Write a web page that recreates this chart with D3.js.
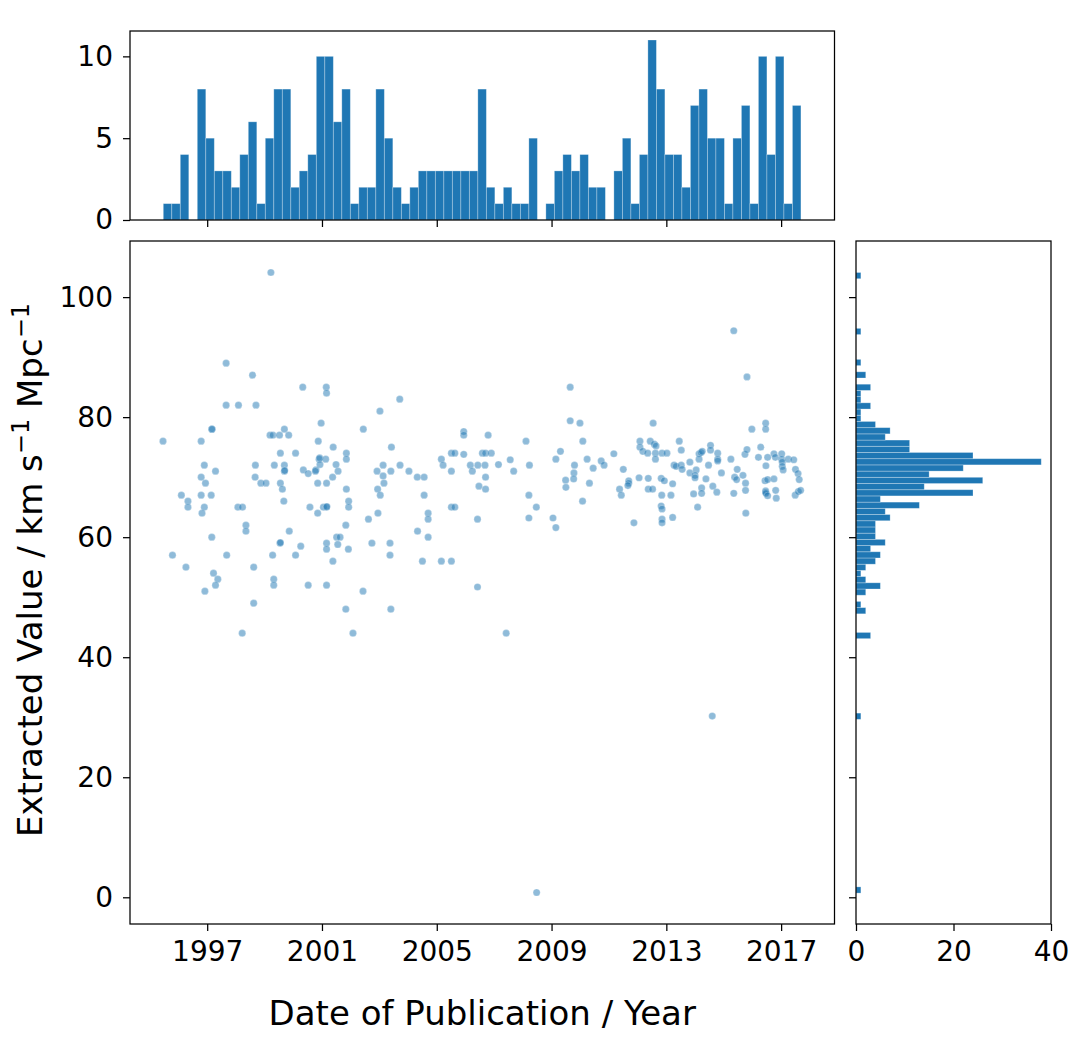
<!DOCTYPE html>
<html><head><meta charset="utf-8">
<script src="https://cdn.jsdelivr.net/npm/d3@7"></script>
<style>
body{margin:0;background:#fff}
svg{display:block}
text{font-family:"DejaVu Sans",sans-serif;fill:#000}
</style>
</head><body>
<svg id="chart" width="1084" height="1050"></svg>
<script>
// ---------------- DATA ----------------
// scatter points: [publication year, extracted H0 value]
const scatterPoints = [
[1999.22,104.1],[1997.66,89.0],[1998.58,87.0],[2000.33,85.0],[2001.15,85.0],[2001.16,84.0],[2003.71,83.0],
[1997.66,82.0],[1998.09,82.0],[1998.70,82.0],[2003.02,81.0],[2000.97,79.0],[1997.16,78.0],[1997.17,78.0],
[1999.69,78.0],[2002.44,78.0],[1995.46,76.0],[1996.79,76.0],[2000.87,76.0],[1999.19,77.0],[1999.29,77.0],
[1999.52,77.0],[1999.84,77.0],[2005.94,77.6],[2005.94,77.0],[2006.79,77.0],[2001.39,75.0],[2003.42,75.0],
[1999.55,74.0],[2000.08,74.0],[2001.85,74.0],[2001.85,73.0],[2000.90,73.0],[2000.92,73.2],[2001.13,73.0],
[2005.16,73.0],[2005.51,74.0],[2005.63,74.0],[2005.94,73.8],[2006.59,74.0],[2006.70,74.0],[2006.90,74.0],
[1996.90,72.0],[1998.68,72.0],[1999.34,72.0],[1999.69,72.0],[2000.93,72.1],[2001.49,72.1],[2003.13,72.0],
[2003.72,72.0],[2005.22,72.0],[2006.17,72.0],[2006.43,72.0],[2006.68,72.0],[1997.29,71.0],[1999.69,71.0],
[1999.70,71.1],[2000.35,71.2],[2000.79,71.2],[2000.77,71.0],[2001.56,71.0],[2002.92,71.0],[2003.40,71.0],
[2004.03,71.0],[2005.51,71.0],[2006.24,71.0],[1996.79,70.0],[1998.67,70.0],[2000.52,70.6],[2001.37,70.0],
[2003.13,70.2],[2004.32,70.0],[2004.56,70.0],[2006.70,70.0],
[1996.94,69.0],[1998.87,69.0],[1999.05,69.0],[1999.55,69.0],[1999.62,68.0],[2000.85,69.0],[2001.16,69.0],
[2001.85,68.0],[2002.94,68.0],[2003.03,67.0],[2003.16,69.0],[2004.56,67.0],[2006.47,68.5],[2006.70,68.0],
[1996.10,67.0],[1996.33,66.0],[1996.33,65.0],[1996.79,67.0],[1997.14,67.0],[1996.90,65.0],[1996.82,64.0],
[1998.07,65.0],[1998.23,65.0],[1999.67,66.0],[2000.58,65.0],[2000.85,64.0],[2001.05,65.0],[2001.16,65.0],
[2001.17,65.1],[2001.93,66.0],[2001.93,65.0],[2002.62,63.0],[2002.95,64.0],[2004.70,64.0],[2004.70,63.0],
[2005.51,65.0],[2005.63,65.0],[2006.42,63.0],[1998.35,62.0],[1998.35,61.0],[1999.86,61.0],[2001.83,62.0],
[2004.33,61.0],[2004.70,60.0],[1997.16,60.0],[1999.54,59.0],[1999.55,59.1],[2000.26,58.5],[2001.16,59.0],
[2001.16,58.0],[2001.51,60.0],[2001.63,60.0],[2001.55,58.8],[2001.92,58.0],[2002.74,59.0],[2003.37,59.0],
[2003.37,57.0],[1995.79,57.0],[1997.68,57.0],[1999.28,57.0],[2000.08,57.0],[2001.38,56.0],[2004.50,56.0],
[2005.16,56.0],[2005.51,56.0],[1996.26,55.0],[1998.62,55.0],[1997.22,54.0],[1997.37,53.0],[1997.29,52.0],
[1996.92,51.0],[1999.32,53.0],[1999.32,52.0],[2000.52,52.0],[2001.16,52.0],[2002.43,51.0],[2006.42,51.7],
[1998.62,49.0],[2001.83,48.0],[2003.40,48.0],[1998.22,44.0],[2002.08,44.0],
[2007.15,72.1],[2007.56,72.9],[2007.68,71.0],[2008.11,76.0],[2008.23,72.0],[2008.21,67.0],[2008.47,65.0],
[2008.21,63.2],[2009.05,63.2],[2009.15,61.6],[2009.15,73.0],[2009.31,74.3],[2009.65,85.0],[2009.65,79.4],
[2009.99,79.0],[2010.09,76.0],[2009.80,72.0],[2009.78,70.7],[2009.77,69.7],[2009.49,69.5],[2009.50,68.3],
[2010.24,73.0],[2010.45,71.5],[2010.32,69.0],[2010.08,66.0],[2010.73,72.7],[2010.83,72.0],[2011.17,73.9],
[2011.50,71.3],[2011.37,68.0],[2011.43,67.0],[2011.69,69.4],[2011.69,69.0],[2011.66,68.6],[2011.87,62.4],
[2012.05,69.9],[2012.08,76.0],[2012.08,75.0],[2012.18,74.3],[2012.35,74.0],[2012.44,76.0],[2012.54,79.0],
[2012.58,75.5],[2012.64,75.2],[2012.62,74.0],[2012.62,73.0],[2012.85,74.0],[2013.02,74.0],[2012.37,69.8],
[2012.37,68.0],[2012.52,68.0],[2012.82,69.8],[2012.93,69.4],[2012.84,67.0],[2013.22,68.9],[2013.16,67.0],
[2013.27,72.0],[2013.34,71.8],[2013.52,72.0],[2013.55,71.3],[2013.45,76.0],[2013.52,74.5],[2013.82,72.5],
[2013.82,70.7],[2014.04,71.2],[2014.00,70.3],[2014.00,69.9],[2014.14,73.9],[2014.21,74.1],[2014.25,74.3],
[2014.14,73.0],[2014.38,69.7],[2014.47,72.0],[2014.54,75.3],[2014.54,74.5],[2014.23,68.2],[2014.23,67.3],
[2013.95,67.2],[2014.62,68.5],[2014.76,67.5],[2014.79,74.0],[2014.79,73.0],[2014.79,72.7],[2014.92,70.7],
[2015.25,73.0],[2015.35,94.4],[2015.47,71.3],[2015.38,70.0],[2015.45,69.6],[2015.67,70.3],[2015.74,73.8],
[2015.81,86.7],[2015.81,74.6],[2015.76,69.0],[2015.76,67.8],[2015.35,67.3],[2015.98,78.0],[2016.29,75.0],
[2016.21,73.3],[2016.46,79.0],[2016.46,78.0],[2016.47,71.9],[2016.53,73.3],[2016.44,69.4],[2016.53,69.6],
[2016.46,67.7],[2016.46,67.5],[2016.47,67.3],[2016.53,66.9],[2016.75,69.7],[2016.75,73.9],[2016.80,73.3],
[2016.83,66.5],[2016.81,67.8],[2017.02,73.9],[2017.02,73.0],[2017.04,72.5],[2017.04,71.8],[2017.07,71.2],
[2017.25,73.0],[2017.44,72.9],[2017.50,71.3],[2017.59,70.6],[2017.63,69.6],[2017.49,67.0],[2017.60,67.6],
[2017.68,67.8],[2015.77,64.0],[2014.09,65.0],[2012.82,65.2],[2012.85,64.7],[2012.85,63.0],[2012.85,62.4],
[2013.22,63.3],[2007.42,44.0],[2008.48,0.8],[2014.60,30.2]
];

// marginal histogram of publication year (75 equal bins)
const yearBinRange = [1995.47, 2017.69];
const yearBinCounts = [1,1,4,0,8,5,3,3,2,4,6,1,5,8,8,2,3,4,10,10,6,8,1,2,2,8,5,2,1,2,3,3,3,3,3,3,3,8,
  2,1,2,1,1,5,0,1,3,4,3,4,2,2,0,3,5,1,4,11,8,4,4,2,7,8,5,5,1,5,7,1,10,4,10,1,7];

// marginal histogram of extracted value (100 equal bins)
const valueBinRange = [0.7, 104.1];
const valueBinCounts = [
  1,0,0,0,0,0,0,0,0,0, 0,0,0,0,0,0,0,0,0,0, 0,0,0,0,0,0,0,0,1,0, 0,0,0,0,0,0,0,0,0,0,
  0,3,0,0,0,2,1,0,2,5, 2,1,2,4,5,3,6,4,4,4, 7,6,13,5,24,14,26,15,22,38, 24,11,11,6,7,4,1,1,3,1,
  1,3,0,2,0,1,0,0,0,0, 1,0,0,0,0,0,0,0,0,1];

const xTicks = [1997, 2001, 2005, 2009, 2013, 2017];
const yTicks = [0, 20, 40, 60, 80, 100];
const topCountTicks = [0, 5, 10];
const sideCountTicks = [0, 20, 40];

const xDomain = [1994.31, 2018.86];
const yDomain = [-4.45, 109.35];
const topCountDomain = [0, 11.55];
const sideCountDomain = [0, 40];

// ---------------- LAYOUT ----------------
const mainBox = {l:130, r:834.5, t:241, b:924};
const topBox = {t:31, b:220};
const sideBox = {l:856, r:1051};
const blue = "#1f77b4";
const tickFont = 28, labelFont = 34;

const svg = d3.select("#chart");

const x = d3.scaleLinear().domain(xDomain).range([mainBox.l, mainBox.r]);
const y = d3.scaleLinear().domain(yDomain).range([mainBox.b, mainBox.t]);
const yt = d3.scaleLinear().domain(topCountDomain).range([topBox.b, topBox.t]);
const xs = d3.scaleLinear().domain(sideCountDomain).range([sideBox.l, sideBox.r]);

function styleAxis(g){
  g.select(".domain").remove();
  g.selectAll(".tick line").attr("stroke","#000").attr("stroke-width",1.25);
  g.selectAll(".tick text").attr("font-size",tickFont).attr("font-family","DejaVu Sans").attr("fill","#000");
}

// ---- top histogram ----
const yw = (yearBinRange[1]-yearBinRange[0]) / yearBinCounts.length;
svg.append("g").selectAll("rect").data(yearBinCounts.map((c,i)=>({c,i})).filter(d=>d.c>0))
  .join("rect")
  .attr("x", d=>x(yearBinRange[0]+d.i*yw))
  .attr("width", d=>x(yearBinRange[0]+(d.i+1)*yw)-x(yearBinRange[0]+d.i*yw))
  .attr("y", d=>yt(d.c))
  .attr("height", d=>yt(0)-yt(d.c))
  .attr("fill", blue).attr("stroke","#ffffff").attr("stroke-opacity",0.35).attr("stroke-width",0.8);

svg.append("g").attr("transform",`translate(0,${topBox.b})`)
  .call(d3.axisBottom(x).tickValues(xTicks).tickSize(7).tickFormat(""))
  .call(styleAxis);
svg.append("g").attr("transform",`translate(${mainBox.l},0)`)
  .call(d3.axisLeft(yt).tickValues(topCountTicks).tickSize(7).tickPadding(10).tickFormat(d3.format("d")))
  .call(styleAxis);
svg.append("rect").attr("x",mainBox.l).attr("y",topBox.t).attr("width",mainBox.r-mainBox.l).attr("height",topBox.b-topBox.t)
  .attr("fill","none").attr("stroke","#000").attr("stroke-width",1.25);

// ---- main scatter ----
svg.append("g").selectAll("circle").data(scatterPoints).join("circle")
  .attr("cx", d=>x(d[0])).attr("cy", d=>y(d[1])).attr("r",3.6)
  .attr("fill", blue).attr("fill-opacity",0.5)
  .attr("stroke","#ffffff").attr("stroke-opacity",0.5).attr("stroke-width",0.5);

svg.append("g").attr("transform",`translate(0,${mainBox.b})`)
  .call(d3.axisBottom(x).tickValues(xTicks).tickSize(7).tickPadding(10).tickFormat(d3.format("d")))
  .call(styleAxis);
svg.append("g").attr("transform",`translate(${mainBox.l},0)`)
  .call(d3.axisLeft(y).tickValues(yTicks).tickSize(7).tickPadding(10).tickFormat(d3.format("d")))
  .call(styleAxis);
svg.append("rect").attr("x",mainBox.l).attr("y",mainBox.t).attr("width",mainBox.r-mainBox.l).attr("height",mainBox.b-mainBox.t)
  .attr("fill","none").attr("stroke","#000").attr("stroke-width",1.25);

// ---- side histogram ----
const vw = (valueBinRange[1]-valueBinRange[0]) / valueBinCounts.length;
svg.append("g").selectAll("rect").data(valueBinCounts.map((c,i)=>({c,i})).filter(d=>d.c>0))
  .join("rect")
  .attr("x", xs(0))
  .attr("width", d=>xs(d.c)-xs(0))
  .attr("y", d=>y(valueBinRange[0]+(d.i+1)*vw))
  .attr("height", d=>y(valueBinRange[0]+d.i*vw)-y(valueBinRange[0]+(d.i+1)*vw))
  .attr("fill", blue).attr("stroke","#ffffff").attr("stroke-opacity",0.35).attr("stroke-width",0.8);

svg.append("g").attr("transform",`translate(0,${mainBox.b})`)
  .call(d3.axisBottom(xs).tickValues(sideCountTicks).tickSize(7).tickPadding(10).tickFormat(d3.format("d")))
  .call(styleAxis);
svg.append("g").attr("transform",`translate(${sideBox.l},0)`)
  .call(d3.axisLeft(y).tickValues(yTicks).tickSize(7).tickFormat(""))
  .call(styleAxis);
svg.append("rect").attr("x",sideBox.l).attr("y",mainBox.t).attr("width",sideBox.r-sideBox.l).attr("height",mainBox.b-mainBox.t)
  .attr("fill","none").attr("stroke","#000").attr("stroke-width",1.25);

// ---- axis labels ----
svg.append("text").attr("x",(mainBox.l+mainBox.r)/2).attr("y",1025)
  .attr("text-anchor","middle").attr("font-size",labelFont)
  .text("Date of Publication / Year");

const yl = svg.append("text").attr("transform",`translate(42,570) rotate(-90)`)
  .attr("text-anchor","middle").attr("font-size",labelFont);
yl.append("tspan").text("Extracted Value / km s");
yl.append("tspan").attr("font-size",24).attr("dy",-13).text("\u22121");
yl.append("tspan").attr("dy",13).text(" Mpc");
yl.append("tspan").attr("font-size",24).attr("dy",-13).text("\u22121");
</script>
</body></html>
